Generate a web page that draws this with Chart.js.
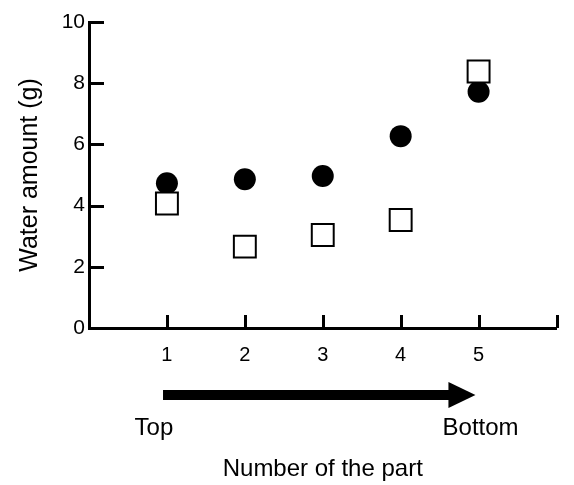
<!DOCTYPE html>
<html><head><meta charset="utf-8">
<script src="https://cdn.jsdelivr.net/npm/chart.js@4.4.0/dist/chart.umd.min.js"></script>
<style>html,body{margin:0;padding:0;background:#fff}</style>
</head><body>
<canvas id="c" width="574" height="485"></canvas>
<script>
// ---- data ----
const parts = [1, 2, 3, 4, 5];
const filledValues = [4.73, 4.86, 4.97, 6.27, 7.72];
const openValues = [4.07, 2.66, 3.04, 3.53, 8.38];
const yTicks = [0, 2, 4, 6, 8, 10];
const xTickMarks = [1, 2, 3, 4, 5, 6];
const yTitle = 'Water amount (g)';
const xTitle = 'Number of the part';
const startLabel = 'Top';
const endLabel = 'Bottom';

const FONT = '"Liberation Sans", Arial, Helvetica, sans-serif';

const annotatePlugin = {
  id: 'annotate',
  afterDraw(chart) {
    const ctx = chart.ctx, xs = chart.scales.x, ys = chart.scales.y;
    ctx.save();
    ctx.strokeStyle = '#000';
    ctx.fillStyle = '#000';
    ctx.lineWidth = 3;
    ctx.lineCap = 'butt';
    // inward y ticks
    yTicks.forEach(v => {
      if (v === 0) return;
      const y = Math.round(ys.getPixelForValue(v)) + 0.5;
      ctx.beginPath(); ctx.moveTo(xs.left, y); ctx.lineTo(xs.left + 15, y); ctx.stroke();
    });
    // inward x ticks
    xTickMarks.forEach(v => {
      const x = Math.round(xs.getPixelForValue(v)) + 0.5;
      ctx.beginPath(); ctx.moveTo(x, ys.bottom); ctx.lineTo(x, ys.bottom - 13); ctx.stroke();
    });
    // arrow
    const ay = 395;
    const x0 = xs.getPixelForValue(0.95);
    const x1 = xs.getPixelForValue(4.96);
    const head = 27;
    ctx.fillRect(x0, ay - 5, (x1 - head) - x0 + 1, 10);
    ctx.beginPath();
    ctx.moveTo(x1 - head, ay - 13);
    ctx.lineTo(x1, ay);
    ctx.lineTo(x1 - head, ay + 13);
    ctx.closePath();
    ctx.fill();
    // Top / Bottom labels
    ctx.font = '24px ' + FONT;
    ctx.textBaseline = 'alphabetic';
    ctx.textAlign = 'center';
    ctx.fillText(startLabel, xs.getPixelForValue(1) - 13, 435);
    ctx.fillText(endLabel, xs.getPixelForValue(5) + 2, 435);
    ctx.restore();
  }
};

new Chart(document.getElementById('c'), {
  type: 'scatter',
  data: {
    datasets: [
      {
        label: 'filled',
        data: parts.map((p, i) => ({ x: p, y: filledValues[i] })),
        pointStyle: 'circle',
        pointRadius: 11,
        backgroundColor: '#000',
        borderColor: '#000',
        borderWidth: 0,
        order: 1
      },
      {
        label: 'open',
        data: parts.map((p, i) => ({ x: p, y: openValues[i] })),
        pointStyle: 'rect',
        pointRadius: 15.5,
        backgroundColor: '#fff',
        borderColor: '#000',
        borderWidth: 2,
        order: 0
      }
    ]
  },
  options: {
    responsive: false,
    animation: false,
    events: [],
    layout: { padding: { top: 22, right: 16, left: 0, bottom: 0 } },
    plugins: { legend: { display: false }, tooltip: { enabled: false } },
    scales: {
      x: {
        type: 'linear', min: 0, max: 6,
        afterBuildTicks: s => { s.ticks = [0].concat(xTickMarks).map(v => ({ value: v })); },
        ticks: {
          autoSkip: false, maxRotation: 0, color: '#000', padding: 15,
          font: { family: FONT, size: 20 },
          callback: v => parts.includes(v) ? String(v) : ''
        },
        grid: { drawOnChartArea: false, drawTicks: false, color: 'rgba(0,0,0,0)' },
        border: { display: true, color: '#000', width: 3 },
        title: { display: true, text: xTitle, color: '#000', font: { family: FONT, size: 24 }, padding: { top: 0, bottom: 1 } },
        afterFit: s => { s.height = 157; }
      },
      y: {
        type: 'linear', min: 0, max: 10,
        afterBuildTicks: s => { s.ticks = yTicks.map(v => ({ value: v })); },
        ticks: {
          color: '#000', padding: 4,
          font: { family: FONT, size: 21 }
        },
        grid: { drawOnChartArea: false, drawTicks: false, color: 'rgba(0,0,0,0)' },
        border: { display: true, color: '#000', width: 3 },
        title: { display: true, text: yTitle, color: '#000', font: { family: FONT, size: 25 }, padding: { top: 15, bottom: 0 } },
        afterFit: s => { s.width = 89; }
      }
    }
  },
  plugins: [annotatePlugin]
});
</script>
</body></html>
